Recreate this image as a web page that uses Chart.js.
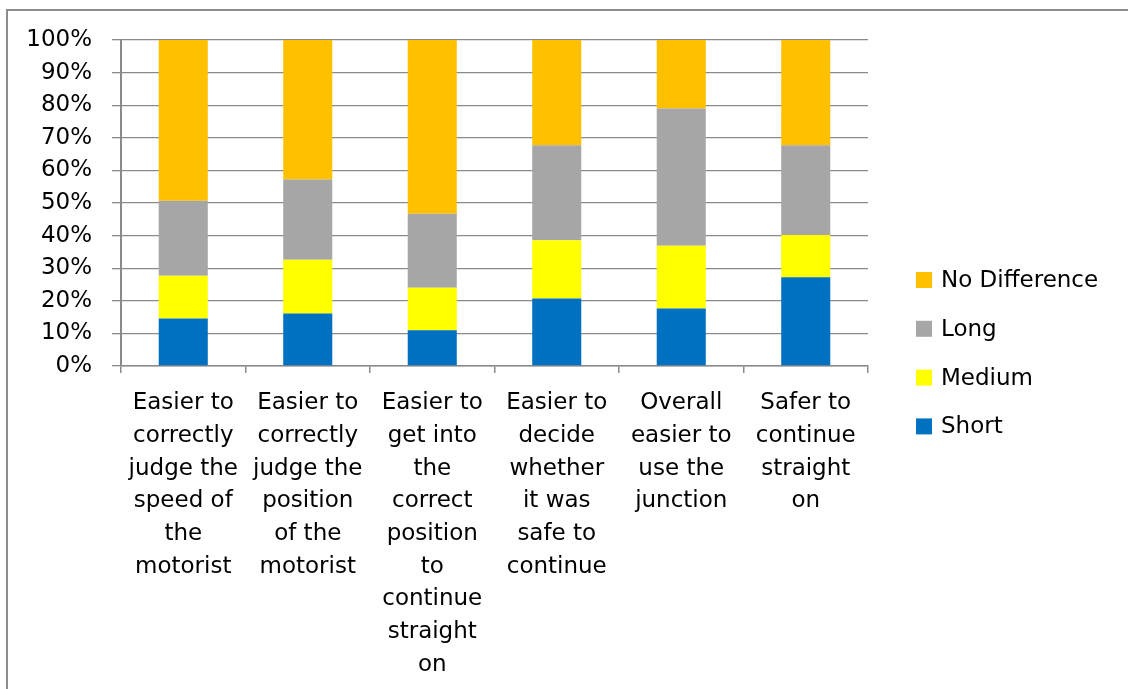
<!DOCTYPE html>
<html>
<head>
<meta charset="utf-8">
<script src="https://cdn.jsdelivr.net/npm/chart.js@4/dist/chart.umd.min.js"></script>
<style>
  html, body { margin: 0; padding: 0; background: #ffffff; }
  #wrap { position: relative; width: 1128px; height: 689px; }
</style>
</head>
<body>
<div id="wrap"><canvas id="c"></canvas></div>
<script>
// Category labels, one line per array entry
const categories = [
  ["Easier to", "correctly", "judge the", "speed of", "the", "motorist"],
  ["Easier to", "correctly", "judge the", "position", "of the", "motorist"],
  ["Easier to", "get into", "the", "correct", "position", "to", "continue", "straight", "on"],
  ["Easier to", "decide", "whether", "it was", "safe to", "continue"],
  ["Overall", "easier to", "use the", "junction"],
  ["Safer to", "continue", "straight", "on"]
];

// Share of responses (%) per preference
const shortValues  = [14.6, 16.1, 11.0, 20.7, 17.6, 27.2];
const mediumValues = [13.1, 16.5, 13.0, 17.9, 19.3, 13.0];
const longValues   = [23.0, 24.6, 22.7, 29.1, 42.1, 27.5];
const noDiffValues = [49.3, 42.8, 53.3, 32.3, 21.0, 32.3];

const yTickValues = [0, 10, 20, 30, 40, 50, 60, 70, 80, 90, 100];

const FONT = "'DejaVu Sans', sans-serif";
const GRID = '#8a8a8a';

// Outer frame around the whole chart
const framePlugin = {
  id: 'frame',
  beforeDraw(chart) {
    const ctx = chart.ctx;
    ctx.save();
    ctx.fillStyle = '#ffffff';
    ctx.fillRect(0, 0, chart.width, chart.height);
    ctx.strokeStyle = '#8c8c8c';
    ctx.lineWidth = 2;
    ctx.strokeRect(7, 10, chart.width + 40, chart.height + 40);
    ctx.restore();
  }
};

// Legend on the right, stacked top series first
const sideLegend = {
  id: 'sideLegend',
  afterDraw(chart) {
    const ctx = chart.ctx;
    const sets = chart.data.datasets.slice().reverse();
    const boxX = 916, textX = 941, startY = 280, step = 48.8, box = 16;
    ctx.save();
    ctx.font = '23px ' + FONT;
    ctx.textBaseline = 'middle';
    ctx.textAlign = 'left';
    sets.forEach((ds, i) => {
      const cy = startY + i * step;
      ctx.fillStyle = ds.backgroundColor;
      ctx.fillRect(boxX, cy - box / 2, box, box);
      ctx.fillStyle = '#000000';
      ctx.fillText(ds.label, textX, cy + 1);
    });
    ctx.restore();
  }
};

new Chart(document.getElementById('c'), {
  type: 'bar',
  data: {
    labels: categories,
    datasets: [
      { label: 'Short',         data: shortValues,  backgroundColor: '#0070C0' },
      { label: 'Medium',        data: mediumValues, backgroundColor: '#FFFF00' },
      { label: 'Long',          data: longValues,   backgroundColor: '#A6A6A6' },
      { label: 'No Difference', data: noDiffValues, backgroundColor: '#FFC000' }
    ]
  },
  options: {
    responsive: true,
    maintainAspectRatio: false,
    animation: false,
    devicePixelRatio: 1,
    layout: { padding: { left: 0, top: 40, right: 260, bottom: 0 } },
    datasets: {
      bar: { categoryPercentage: 1.0, barPercentage: 0.394, borderWidth: 0 }
    },
    plugins: {
      legend: { display: false },
      tooltip: { enabled: false }
    },
    scales: {
      x: {
        stacked: true,
        grid: {
          display: true,
          drawOnChartArea: false,
          drawTicks: true,
          tickLength: 7,
          color: GRID,
          lineWidth: 1.5,
          offset: true
        },
        border: { display: true, color: GRID, width: 1.5 },
        ticks: {
          color: '#000000',
          font: { family: FONT, size: 23, lineHeight: 1.42 },
          padding: 14,
          maxRotation: 0,
          autoSkip: false
        },
        afterFit(scale) { scale.height = 689 - 366; }
      },
      y: {
        stacked: true,
        min: 0,
        max: 100,
        afterBuildTicks(scale) { scale.ticks = yTickValues.map(v => ({ value: v })); },
        grid: {
          color: GRID,
          lineWidth: 1.3,
          drawTicks: true,
          tickLength: 9
        },
        border: { display: true, color: GRID, width: 2 },
        ticks: {
          color: '#000000',
          font: { family: FONT, size: 23 },
          padding: 20,
          callback: (v) => v + '%'
        },
        afterFit(scale) { scale.width = 121; }
      }
    }
  },
  plugins: [framePlugin, sideLegend]
});
</script>
</body>
</html>
